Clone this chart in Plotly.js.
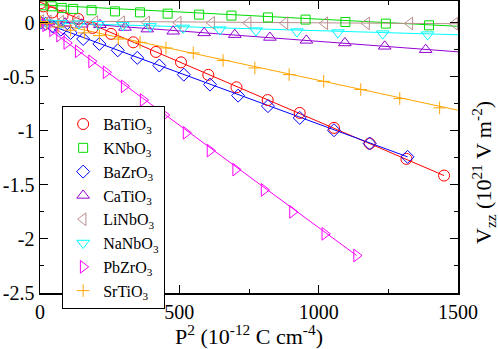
<!DOCTYPE html>
<html>
<head>
<meta charset="utf-8">
<script src="https://cdn.plot.ly/plotly-3.0.1.min.js"></script>
<style>
  html, body { margin: 0; padding: 0; background: #fff; }
  #chart { width: 498px; height: 349px; }
</style>
</head>
<body>
<div id="chart"></div>
<script>
// P^2 (1e-12 C cm^-4) and Vzz (1e21 V m^-2)
const batio3X = [3, 12, 45, 81, 137, 189, 255, 335, 416, 506, 604, 705, 817, 932, 1055, 1183, 1315, 1450];
const batio3Y = [0.18, 0.15, 0.095, 0.065, 0.034, -0.049, -0.104, -0.182, -0.271, -0.367, -0.483, -0.598, -0.716, -0.835, -0.973, -1.118, -1.26, -1.414];

const knbo3X = [5, 42, 78, 119, 185, 269, 359, 458, 571, 687, 818, 953, 1096, 1241, 1396];
const knbo3Y = [0.16, 0.151, 0.136, 0.127, 0.114, 0.104, 0.095, 0.083, 0.074, 0.065, 0.048, 0.028, 0.006, -0.009, -0.025];

const bazro3X = [2, 20, 45, 75, 110, 155, 213, 279, 349, 428, 516, 610, 711, 818, 932, 1055, 1183, 1319];
const bazro3Y = [0.0, -0.01, -0.035, -0.065, -0.095, -0.151, -0.197, -0.256, -0.326, -0.397, -0.481, -0.573, -0.675, -0.772, -0.881, -0.995, -1.118, -1.241];

const catio3X = [2, 30, 90, 150, 215, 305, 385, 478, 589, 699, 825, 956, 1094, 1237, 1384];
const catio3Y = [0.01, 0.005, -0.005, -0.015, -0.02, -0.045, -0.06, -0.08, -0.095, -0.111, -0.137, -0.164, -0.188, -0.219, -0.25];

const linbo3X = [3, 30, 75, 130, 197, 293, 383, 496, 616, 747, 879, 1022, 1172, 1327, 1488];
const linbo3Y = [0.015, 0.012, 0.01, 0.008, 0.006, 0.004, 0.002, 0.0, -0.002, -0.003, -0.004, -0.006, -0.007, -0.008, -0.01];

const nanbo3X = [2, 25, 75, 140, 209, 298, 395, 514, 645, 775, 922, 1069, 1230, 1391];
const nanbo3Y = [0.0, -0.002, -0.005, -0.01, -0.015, -0.025, -0.035, -0.049, -0.065, -0.074, -0.083, -0.092, -0.102, -0.111];

const pbzro3X = [2, 20, 45, 70, 96, 137, 185, 237, 302, 370, 446, 524, 610, 702, 804, 906, 1022, 1136];
const pbzro3Y = [0.0, -0.025, -0.07, -0.12, -0.188, -0.265, -0.358, -0.459, -0.589, -0.716, -0.855, -1.019, -1.183, -1.359, -1.547, -1.75, -1.953, -2.153];

const srtio3X = [2, 25, 65, 110, 159, 213, 281, 359, 452, 550, 657, 771, 894, 1018, 1151, 1291, 1434];
const srtio3Y = [0.01, -0.01, -0.04, -0.07, -0.095, -0.12, -0.152, -0.182, -0.234, -0.28, -0.351, -0.419, -0.481, -0.543, -0.619, -0.702, -0.788];

// fitted lines drawn in the figure (end points)
const fitBatio3 = { x: [0, 1450], y: [0.19, -1.414] };
const fitKnbo3 = { x: [0, 1500], y: [0.165, -0.034] };
const fitBazro3 = { x: [0, 1319], y: [0.01, -1.241] };
const fitCatio3 = { x: [0, 1500], y: [0.02, -0.27] };
const fitLinbo3 = { x: [0, 1500], y: [0.015, -0.01] };
const fitNanbo3 = { x: [0, 1500], y: [0.0, -0.112] };
const fitPbzro3 = { x: [0, 1136], y: [0.0, -2.153] };
const fitSrtio3 = { x: [0, 1500], y: [0.02, -0.81] };

const yTickVals = [0, -0.5, -1, -1.5, -2, -2.5];
const yTickText = ['0', '-0.5', '-1', '-1.5', '-2', '-2.5'];
const xTickVals = [0, 500, 1000, 1500];
const xTickText = ['0', '500', '1000', '1500'];

const series = [
    { name: 'BaTiO<sub>3</sub>', x: batio3X, y: batio3Y, fit: fitBatio3, color: 'rgb(255,0,0)', symbol: 'circle-open', size: 11 },
    { name: 'KNbO<sub>3</sub>', x: knbo3X, y: knbo3Y, fit: fitKnbo3, color: 'rgb(0,220,0)', symbol: 'square-open', size: 9 },
    { name: 'BaZrO<sub>3</sub>', x: bazro3X, y: bazro3Y, fit: fitBazro3, color: 'rgb(0,0,255)', symbol: 'diamond-open', size: 10 },
    { name: 'CaTiO<sub>3</sub>', x: catio3X, y: catio3Y, fit: fitCatio3, color: 'rgb(148,0,211)', symbol: 'triangle-up-open', size: 11 },
    { name: 'LiNbO<sub>3</sub>', x: linbo3X, y: linbo3Y, fit: fitLinbo3, color: 'rgb(188,143,143)', symbol: 'triangle-left-open', size: 11 },
    { name: 'NaNbO<sub>3</sub>', x: nanbo3X, y: nanbo3Y, fit: fitNanbo3, color: 'rgb(0,255,255)', symbol: 'triangle-down-open', size: 11 },
    { name: 'PbZrO<sub>3</sub>', x: pbzro3X, y: pbzro3Y, fit: fitPbzro3, color: 'rgb(255,0,255)', symbol: 'triangle-right-open', size: 11 },
    { name: 'SrTiO<sub>3</sub>', x: srtio3X, y: srtio3Y, fit: fitSrtio3, color: 'rgb(255,165,0)', symbol: 'cross-thin-open', size: 9 }
];

const traces = [];
series.forEach(s => {
    traces.push({
        x: s.fit.x, y: s.fit.y, type: 'scatter', mode: 'lines',
        line: { color: s.color, width: 1 }, showlegend: false, hoverinfo: 'skip'
    });
});
series.forEach(s => {
    traces.push({
        x: s.x, y: s.y, type: 'scatter', mode: 'markers', name: s.name,
        marker: { symbol: s.symbol, size: s.size, color: s.color, line: { color: s.color, width: 1 } }
    });
});

const font = '"Liberation Serif", "Times New Roman", Times, serif';

const layout = {
    width: 498,
    height: 349,
    margin: { l: 40, r: 40, t: 1, b: 56 },
    paper_bgcolor: '#fff',
    plot_bgcolor: '#fff',
    font: { family: font, size: 20, color: '#000' },
    showlegend: true,
    xaxis: {
        range: [0, 1500],
        tickmode: 'array', tickvals: xTickVals, ticktext: xTickText,
        ticks: 'inside', ticklen: 8, tickwidth: 1, tickcolor: '#000',
        minor: { tickmode: 'array', tickvals: [250, 750, 1250], ticks: 'inside', ticklen: 4, tickcolor: '#000', showgrid: false },
        showline: true, linecolor: '#000', linewidth: 1.5, mirror: 'ticks',
        showgrid: false, zeroline: false,
        tickfont: { family: font, size: 20 },
        title: { text: 'P<sup>2</sup> (10<sup>-12</sup> C cm<sup>-4</sup>)', font: { family: font, size: 22 }, standoff: 0 }
    },
    yaxis: {
        range: [-2.5, 0.2],
        tickmode: 'array', tickvals: yTickVals, ticktext: yTickText,
        ticks: 'inside', ticklen: 8, tickwidth: 1, tickcolor: '#000',
        minor: { tickmode: 'array', tickvals: [0.25, -0.25, -0.75, -1.25, -1.75, -2.25], ticks: 'inside', ticklen: 4, tickcolor: '#000', showgrid: false },
        showline: true, linecolor: '#000', linewidth: 1.5, mirror: 'ticks',
        showgrid: false, zeroline: false,
        tickfont: { family: font, size: 20 }
    },
    legend: {
        x: 0.053, y: 0.64, xanchor: 'left', yanchor: 'top',
        bgcolor: '#fff', bordercolor: '#000', borderwidth: 1,
        font: { family: font, size: 16 },
        tracegroupgap: 0, itemwidth: 30
    },
    annotations: [{
        text: 'V<sub>zz</sub> (10<sup>21</sup> V m<sup>-2</sup>)',
        xref: 'paper', yref: 'paper', x: 1, y: 0.5,
        xanchor: 'center', yanchor: 'middle', xshift: 25, yshift: -26,
        textangle: -90, showarrow: false,
        font: { family: font, size: 22 }
    }]
};

Plotly.newPlot('chart', traces, layout, { staticPlot: true });
</script>
</body>
</html>
